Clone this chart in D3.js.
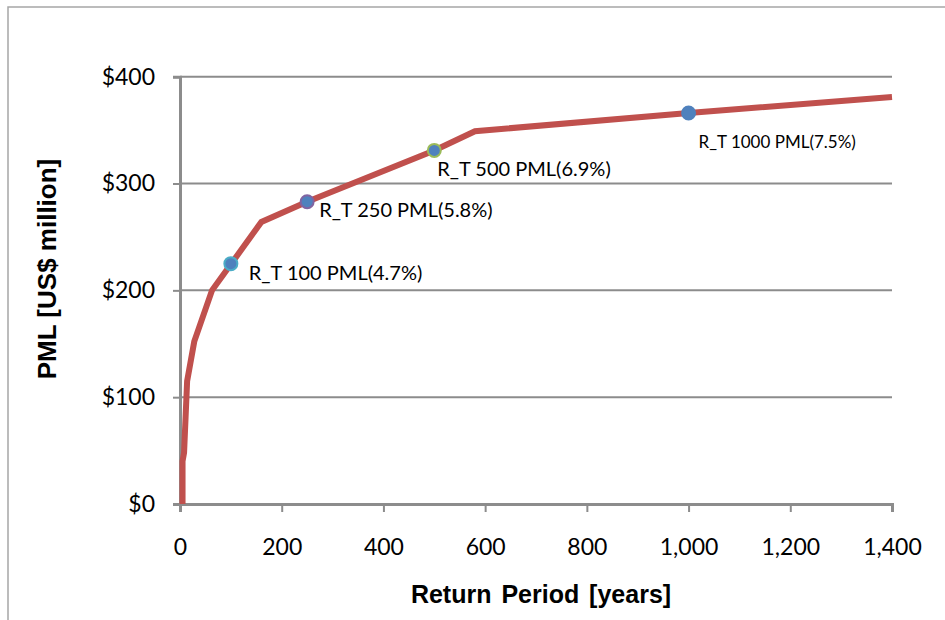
<!DOCTYPE html>
<html><head><meta charset="utf-8">
<script src="https://cdn.jsdelivr.net/npm/d3@7"></script>
<style>body{margin:0;background:#fff}svg{display:block}</style>
</head><body>
<svg id="c" width="945" height="620"></svg>
<script>
// Data
const returnPeriods = [5, 5, 8, 14, 28, 63, 160, 250, 500, 580, 1000, 1400];
const pmlValues     = [0, 40, 48, 115, 152, 200, 264, 283, 331, 349, 366, 381];
const markerPeriods = [100, 250, 500, 1000];
const markerValues  = [225, 283, 331, 366];
const markerLabels  = ["R_T 100 PML(4.7%)", "R_T 250 PML(5.8%)", "R_T 500 PML(6.9%)", "R_T 1000 PML(7.5%)"];
const xTicks = [0, 200, 400, 600, 800, 1000, 1200, 1400];
const yTicks = [0, 100, 200, 300, 400];

// Styles
const markerStroke = ["#4bacc6", "#8064a2", "#9bbb59", "#4f81bd"];
const labelDx = [18, 12, 3, 10];
const labelDy = [16, 15, 26, 35];
const labelSize = [20, 20, 20, 17];

const svg = d3.select("#c");
svg.append("rect").attr("x", 8).attr("y", 7).attr("width", 1000).attr("height", 700)
  .attr("fill", "none").attr("stroke", "#a6a6a6").attr("stroke-width", 1.5);

const x = d3.scaleLinear().domain([0, 1400]).range([180, 892]);
const y = d3.scaleLinear().domain([0, 400]).range([504, 76.7]);
const font = "Lato, 'Open Sans', sans-serif";

// gridlines
svg.append("g").selectAll("line").data(yTicks.filter(d => d > 0)).join("line")
  .attr("x1", x(0)).attr("x2", x(1400)).attr("y1", d => y(d)).attr("y2", d => y(d))
  .attr("stroke", "#8c8c8c").attr("stroke-width", 2);

// axes
const yAxis = svg.append("g").attr("transform", `translate(${x(0)},0)`)
  .call(d3.axisLeft(y).tickValues(yTicks).tickFormat(d => "$" + d).tickSize(7).tickPadding(18));
const xAxis = svg.append("g").attr("transform", `translate(0,${y(0)})`)
  .call(d3.axisBottom(x).tickValues(xTicks).tickFormat(d3.format(",")).tickSize(8).tickPadding(27));
[yAxis, xAxis].forEach(g => {
  g.select(".domain").attr("stroke", "#8c8c8c").attr("stroke-width", 3);
  g.selectAll(".tick line").attr("stroke", "#8c8c8c").attr("stroke-width", 2);
  g.selectAll("text").attr("font-family", font).attr("font-size", 23).attr("fill", "#000");
});
xAxis.selectAll("text").attr("dy", "0.71em");

// curve
const line = d3.line().x(d => x(d[0])).y(d => y(d[1]));
svg.append("path").datum(returnPeriods.map((p, i) => [p, pmlValues[i]]))
  .attr("d", line).attr("fill", "none").attr("stroke", "#c0504d")
  .attr("stroke-width", 6).attr("stroke-linejoin", "miter");

// markers
const m = svg.append("g").selectAll("g").data(markerPeriods).join("g");
m.append("circle").attr("cx", d => x(d)).attr("cy", (d, i) => y(markerValues[i])).attr("r", 6.5)
  .attr("fill", "#4f81bd").attr("stroke", (d, i) => markerStroke[i]).attr("stroke-width", 2);
m.append("text").attr("x", (d, i) => x(d) + labelDx[i]).attr("y", (d, i) => y(markerValues[i]) + labelDy[i])
  .attr("font-family", font).attr("font-size", (d, i) => labelSize[i]).attr("fill", "#000")
  .text((d, i) => markerLabels[i]);

// titles
svg.append("text").attr("x", 541).attr("y", 603).attr("text-anchor", "middle")
  .attr("font-family", "'Liberation Sans', Arial, sans-serif").attr("font-weight", "bold")
  .attr("font-size", 25).attr("word-spacing", 3).text("Return Period [years]");
svg.append("text").attr("transform", "translate(56,269) rotate(-90)").attr("text-anchor", "middle")
  .attr("font-family", "'Liberation Sans', Arial, sans-serif").attr("font-weight", "bold")
  .attr("font-size", 26).text("PML [US$ million]");
</script>
</body></html>
